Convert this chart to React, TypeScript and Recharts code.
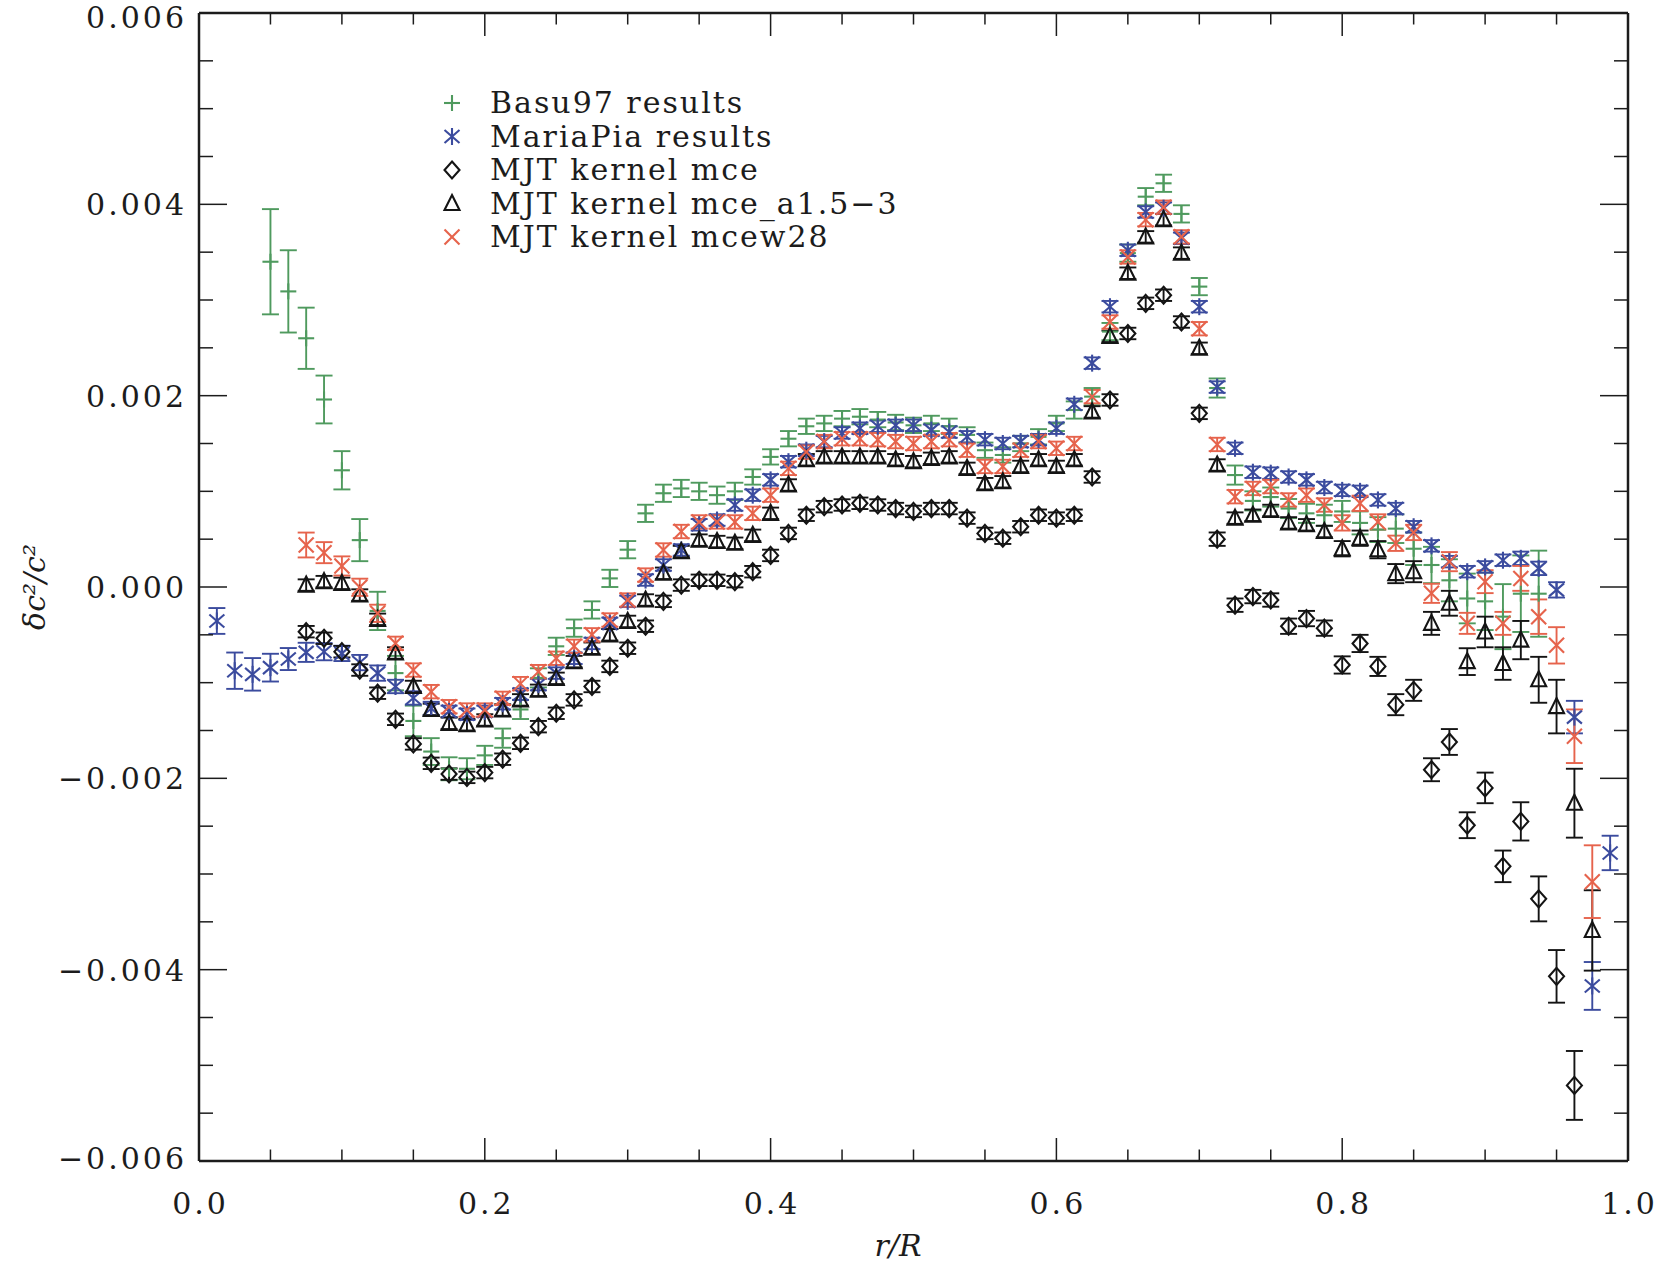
import React from "react";
import { ScatterChart, Scatter, XAxis, YAxis, ErrorBar, Legend } from "recharts";

// radius grid r/R shared by all series (null = no point at that radius)
const radius = [
  0.0125, 0.025, 0.0375, 0.05, 0.0625, 0.075, 0.0875, 0.1, 0.1125, 0.125,
  0.1375, 0.15, 0.1625, 0.175, 0.1875, 0.2, 0.2125, 0.225, 0.2375, 0.25,
  0.2625, 0.275, 0.2875, 0.3, 0.3125, 0.325, 0.3375, 0.35, 0.3625, 0.375,
  0.3875, 0.4, 0.4125, 0.425, 0.4375, 0.45, 0.4625, 0.475, 0.4875, 0.5,
  0.5125, 0.525, 0.5375, 0.55, 0.5625, 0.575, 0.5875, 0.6, 0.6125, 0.625,
  0.6375, 0.65, 0.6625, 0.675, 0.6875, 0.7, 0.7125, 0.725, 0.7375, 0.75,
  0.7625, 0.775, 0.7875, 0.8, 0.8125, 0.825, 0.8375, 0.85, 0.8625, 0.875,
  0.8875, 0.9, 0.9125, 0.925, 0.9375, 0.95, 0.9625, 0.975, 0.9875,
];

// values in units of 1e-3 (dc^2/c^2)
const basu97 = [
  null, null, null, 3.4, 3.09, 2.6, 1.96, 1.22, 0.49, -0.25,
  -0.9, -1.4, -1.72, -1.9, -1.9, -1.76, -1.58, -1.28, -0.95, -0.62,
  -0.43, -0.24, 0.09, 0.39, 0.77, 0.98, 1.03, 1.0, 0.96, 1.0,
  1.15, 1.36, 1.55, 1.68, 1.71, 1.76, 1.78, 1.75, 1.72, 1.69,
  1.71, 1.68, 1.59, 1.43, 1.38, 1.5, 1.57, 1.71, 1.85, 1.99,
  2.67, 3.49, 4.08, 4.22, 3.9, 3.14, 2.08, 1.17, 0.9, 0.94,
  0.82, 0.77, 0.75, 0.79, 0.67, 0.6, 0.61, 0.4, 0.23, 0.07,
  -0.12, -0.15, -0.31, -0.07, -0.07, null, null, null, null,
];
const basu97Err = [
  null, null, null, 0.55, 0.43, 0.32, 0.25, 0.2, 0.22, 0.2,
  0.18, 0.16, 0.14, 0.12, 0.11, 0.1, 0.1, 0.1, 0.1, 0.09,
  0.09, 0.09, 0.09, 0.09, 0.09, 0.09, 0.09, 0.09, 0.09, 0.09,
  0.08, 0.08, 0.08, 0.08, 0.08, 0.08, 0.08, 0.08, 0.08, 0.08,
  0.08, 0.08, 0.08, 0.08, 0.08, 0.08, 0.08, 0.08, 0.09, 0.09,
  0.09, 0.09, 0.09, 0.09, 0.09, 0.09, 0.1, 0.1, 0.1, 0.1,
  0.1, 0.1, 0.11, 0.11, 0.12, 0.13, 0.15, 0.17, 0.19, 0.22,
  0.26, 0.3, 0.34, 0.4, 0.45, null, null, null, null,
];

const mariaPia = [
  -0.355, -0.875, -0.913, -0.843, -0.753, -0.683, -0.676, -0.694, -0.79, -0.9,
  -1.04, -1.16, -1.27, -1.3, -1.33, -1.3, -1.22, -1.12, -1.02, -0.9,
  -0.745, -0.59, -0.38, -0.15, 0.073, 0.23, 0.387, 0.65, 0.7, 0.857,
  0.96, 1.12, 1.31, 1.43, 1.52, 1.61, 1.66, 1.68, 1.69, 1.69,
  1.64, 1.62, 1.57, 1.54, 1.5, 1.52, 1.54, 1.66, 1.91, 2.34,
  2.93, 3.52, 3.92, 3.96, 3.645, 2.93, 2.09, 1.45, 1.2, 1.19,
  1.15, 1.12, 1.04, 1.01, 1.0, 0.91, 0.82, 0.63, 0.43, 0.265,
  0.16, 0.21, 0.28, 0.3, 0.195, -0.03, -1.36, -4.17, -2.78,
];
const mariaPiaErr = [
  0.135, 0.19, 0.17, 0.145, 0.115, 0.1, 0.09, 0.08, 0.08, 0.08,
  0.07, 0.07, 0.07, 0.06, 0.06, 0.06, 0.06, 0.06, 0.06, 0.06,
  0.06, 0.06, 0.06, 0.06, 0.06, 0.06, 0.06, 0.06, 0.06, 0.06,
  0.06, 0.06, 0.06, 0.06, 0.06, 0.06, 0.06, 0.06, 0.06, 0.06,
  0.06, 0.06, 0.06, 0.06, 0.06, 0.06, 0.06, 0.06, 0.06, 0.06,
  0.06, 0.06, 0.06, 0.06, 0.06, 0.06, 0.06, 0.06, 0.06, 0.06,
  0.06, 0.06, 0.06, 0.06, 0.06, 0.06, 0.06, 0.06, 0.06, 0.06,
  0.06, 0.06, 0.06, 0.07, 0.07, 0.08, 0.17, 0.25, 0.18,
];

const mjtMce = [
  null, null, null, null, null, -0.467, -0.536, -0.676, -0.868, -1.11,
  -1.383, -1.64, -1.843, -1.955, -1.99, -1.94, -1.8, -1.634, -1.46, -1.32,
  -1.18, -1.04, -0.83, -0.64, -0.41, -0.15, 0.02, 0.07, 0.07, 0.056,
  0.16, 0.33, 0.56, 0.75, 0.84, 0.857, 0.875, 0.857, 0.82, 0.79,
  0.82, 0.82, 0.72, 0.56, 0.51, 0.63, 0.75, 0.72, 0.75, 1.15,
  1.955, 2.65, 2.965, 3.05, 2.77, 1.815, 0.5, -0.19, -0.1, -0.136,
  -0.41, -0.33, -0.43, -0.815, -0.59, -0.83, -1.23, -1.08, -1.91, -1.62,
  -2.49, -2.1, -2.92, -2.45, -3.26, -4.07, -5.21, null, null,
];
const mjtMceErr = [
  null, null, null, null, null, 0.06, 0.06, 0.06, 0.06, 0.06,
  0.06, 0.06, 0.06, 0.06, 0.06, 0.06, 0.06, 0.06, 0.06, 0.06,
  0.06, 0.06, 0.06, 0.06, 0.06, 0.06, 0.06, 0.06, 0.06, 0.06,
  0.06, 0.06, 0.06, 0.06, 0.06, 0.06, 0.06, 0.06, 0.06, 0.06,
  0.06, 0.06, 0.06, 0.06, 0.06, 0.06, 0.06, 0.06, 0.06, 0.06,
  0.06, 0.06, 0.06, 0.06, 0.06, 0.06, 0.07, 0.07, 0.07, 0.07,
  0.08, 0.08, 0.08, 0.09, 0.09, 0.1, 0.11, 0.11, 0.12, 0.135,
  0.135, 0.16, 0.165, 0.2, 0.235, 0.275, 0.36, null, null,
];

const mjtA153 = [
  null, null, null, null, null, 0.02, 0.056, 0.038, -0.084, -0.338,
  -0.69, -1.04, -1.28, -1.425, -1.44, -1.39, -1.286, -1.18, -1.08, -0.955,
  -0.78, -0.64, -0.5, -0.36, -0.136, 0.143, 0.37, 0.49, 0.475, 0.457,
  0.54, 0.77, 1.066, 1.33, 1.36, 1.36, 1.36, 1.36, 1.33, 1.31,
  1.345, 1.36, 1.24, 1.08, 1.1, 1.26, 1.33, 1.26, 1.33, 1.83,
  2.62, 3.28, 3.66, 3.84, 3.49, 2.495, 1.275, 0.72, 0.75, 0.8,
  0.67, 0.65, 0.58, 0.4, 0.51, 0.39, 0.14, 0.16, -0.38, -0.17,
  -0.78, -0.47, -0.8, -0.555, -0.97, -1.25, -2.26, -3.59, null,
];
const mjtA153Err = [
  null, null, null, null, null, 0.06, 0.06, 0.06, 0.06, 0.06,
  0.06, 0.06, 0.06, 0.06, 0.06, 0.06, 0.06, 0.06, 0.06, 0.06,
  0.06, 0.06, 0.06, 0.06, 0.06, 0.06, 0.06, 0.06, 0.06, 0.06,
  0.06, 0.06, 0.06, 0.06, 0.06, 0.06, 0.06, 0.06, 0.06, 0.06,
  0.06, 0.06, 0.06, 0.06, 0.06, 0.06, 0.06, 0.06, 0.06, 0.06,
  0.06, 0.06, 0.06, 0.06, 0.06, 0.06, 0.06, 0.06, 0.06, 0.06,
  0.06, 0.06, 0.06, 0.08, 0.08, 0.09, 0.1, 0.11, 0.12, 0.13,
  0.14, 0.16, 0.17, 0.2, 0.24, 0.28, 0.36, 0.42, null,
];

const mjtW28 = [
  null, null, null, null, null, 0.439, 0.359, 0.22, -0.003, -0.275,
  -0.589, -0.868, -1.094, -1.251, -1.286, -1.286, -1.164, -1.01, -0.885, -0.745,
  -0.62, -0.5, -0.345, -0.136, 0.125, 0.387, 0.58, 0.68, 0.68, 0.68,
  0.77, 0.96, 1.24, 1.41, 1.52, 1.55, 1.55, 1.54, 1.52, 1.5,
  1.52, 1.54, 1.43, 1.26, 1.26, 1.43, 1.52, 1.45, 1.5, 1.99,
  2.77, 3.45, 3.84, 3.97, 3.66, 2.7, 1.49, 0.944, 1.03, 1.05,
  0.91, 0.96, 0.857, 0.67, 0.875, 0.68, 0.457, 0.57, -0.066, 0.265,
  -0.38, 0.056, -0.38, 0.09, -0.31, -0.61, -1.56, -3.08, null,
];
const mjtW28Err = [
  null, null, null, null, null, 0.13, 0.11, 0.1, 0.09, 0.09,
  0.07, 0.07, 0.07, 0.07, 0.07, 0.07, 0.07, 0.07, 0.07, 0.07,
  0.07, 0.07, 0.07, 0.07, 0.07, 0.07, 0.07, 0.07, 0.07, 0.07,
  0.07, 0.07, 0.07, 0.07, 0.07, 0.07, 0.07, 0.07, 0.07, 0.07,
  0.07, 0.07, 0.07, 0.07, 0.07, 0.07, 0.07, 0.07, 0.07, 0.07,
  0.07, 0.07, 0.07, 0.07, 0.07, 0.07, 0.07, 0.07, 0.07, 0.07,
  0.07, 0.07, 0.07, 0.08, 0.08, 0.08, 0.08, 0.08, 0.1, 0.1,
  0.11, 0.12, 0.12, 0.13, 0.18, 0.19, 0.28, 0.38, null,
];

const xTicks = [
  0, 0.05, 0.1, 0.15, 0.2, 0.25, 0.3, 0.35, 0.4, 0.45, 0.5,
  0.55, 0.6, 0.65, 0.7, 0.75, 0.8, 0.85, 0.9, 0.95, 1.0,
];
const yTicks = [
  -6, -5.5, -5, -4.5, -4, -3.5, -3, -2.5, -2, -1.5, -1, -0.5, 0,
  0.5, 1, 1.5, 2, 2.5, 3, 3.5, 4, 4.5, 5, 5.5, 6,
];

const FONT = '"DejaVu Serif", serif';
const INK = "#1c1c1c";
const GREEN = "#4f9a5e";
const BLUE = "#3b4b9e";
const RED = "#e6634c";
const BLACK = "#141414";

type MarkerKind = "plus" | "star" | "diamond" | "triangle" | "cross";

function Marker({ kind, cx, cy, color }: { kind: MarkerKind; cx: number; cy: number; color: string }) {
  const sw = 2.1;
  if (kind === "plus") {
    return (
      <g stroke={color} strokeWidth={sw}>
        <line x1={cx - 8} y1={cy} x2={cx + 8} y2={cy} />
        <line x1={cx} y1={cy - 8} x2={cx} y2={cy + 8} />
      </g>
    );
  }
  if (kind === "star") {
    return (
      <g stroke={color} strokeWidth={sw}>
        <line x1={cx} y1={cy - 8.5} x2={cx} y2={cy + 8.5} />
        <line x1={cx - 7.5} y1={cy - 6.5} x2={cx + 7.5} y2={cy + 6.5} />
        <line x1={cx - 7.5} y1={cy + 6.5} x2={cx + 7.5} y2={cy - 6.5} />
      </g>
    );
  }
  if (kind === "diamond") {
    return (
      <polygon
        points={`${cx},${cy - 8.5} ${cx + 7.5},${cy} ${cx},${cy + 8.5} ${cx - 7.5},${cy}`}
        fill="none"
        stroke={color}
        strokeWidth={sw}
      />
    );
  }
  if (kind === "triangle") {
    return (
      <polygon
        points={`${cx},${cy - 8.5} ${cx + 7.5},${cy + 6.5} ${cx - 7.5},${cy + 6.5}`}
        fill="none"
        stroke={color}
        strokeWidth={sw}
      />
    );
  }
  return (
    <g stroke={color} strokeWidth={sw}>
      <line x1={cx - 7.5} y1={cy - 7.5} x2={cx + 7.5} y2={cy + 7.5} />
      <line x1={cx - 7.5} y1={cy + 7.5} x2={cx + 7.5} y2={cy - 7.5} />
    </g>
  );
}

const series: { name: string; kind: MarkerKind; color: string; values: (number | null)[]; errors: (number | null)[] }[] = [
  { name: "Basu97 results", kind: "plus", color: GREEN, values: basu97, errors: basu97Err },
  { name: "MariaPia results", kind: "star", color: BLUE, values: mariaPia, errors: mariaPiaErr },
  { name: "MJT kernel mce", kind: "diamond", color: BLACK, values: mjtMce, errors: mjtMceErr },
  { name: "MJT kernel mce_a1.5\u22123", kind: "triangle", color: BLACK, values: mjtA153, errors: mjtA153Err },
  { name: "MJT kernel mcew28", kind: "cross", color: RED, values: mjtW28, errors: mjtW28Err },
];

function toPoints(values: (number | null)[], errors: (number | null)[]) {
  return radius
    .map((r, i) => ({ r, v: values[i], err: errors[i] }))
    .filter((p) => p.v !== null);
}

const isMajor = (v: number, step: number) => Math.abs(v / step - Math.round(v / step)) < 1e-6;

function fmtY(v: number) {
  const s = Math.abs(v / 1000).toFixed(3);
  return v < 0 ? "\u2212" + s : s;
}

const labelStyle = { fontFamily: FONT, fontSize: 30, fill: INK, letterSpacing: 3 } as const;

function BottomTick({ x, y, payload }: any) {
  const major = isMajor(payload.value, 0.2);
  return (
    <g>
      <line x1={x} y1={y} x2={x} y2={y - (major ? 23 : 11.5)} stroke={INK} strokeWidth={1.5} />
      {major && (
        <text x={x + 1.5} y={y + 53} textAnchor="middle" {...labelStyle}>
          {payload.value.toFixed(1)}
        </text>
      )}
    </g>
  );
}

function TopTick({ x, y, payload }: any) {
  const major = isMajor(payload.value, 0.2);
  return <line x1={x} y1={y} x2={x} y2={y + (major ? 23 : 11.5)} stroke={INK} strokeWidth={1.5} />;
}

function LeftTick({ x, y, payload }: any) {
  const major = isMajor(payload.value, 2);
  // keep the top label inside the page
  const dy = payload.value === 6 ? 15 : payload.value === -6 ? 8 : 11;
  return (
    <g>
      <line x1={x} y1={y} x2={x + (major ? 28 : 14)} y2={y} stroke={INK} strokeWidth={1.5} />
      {major && (
        <text x={x - 12} y={y + dy} textAnchor="end" {...labelStyle}>
          {fmtY(payload.value)}
        </text>
      )}
    </g>
  );
}

function RightTick({ x, y, payload }: any) {
  const major = isMajor(payload.value, 2);
  return <line x1={x} y1={y} x2={x - (major ? 28 : 14)} y2={y} stroke={INK} strokeWidth={1.5} />;
}

function LegendBox() {
  return (
    <svg width={500} height={180}>
      {series.map((s, i) => {
        const cy = 23 + i * 33.5;
        return (
          <g key={s.name}>
            <Marker kind={s.kind} cx={22} cy={cy} color={s.color} />
            <text x={60} y={cy + 10} fontFamily={FONT} fontSize={30} fill={INK} letterSpacing={2}>
              {s.name}
            </text>
          </g>
        );
      })}
    </svg>
  );
}

export default function App() {
  return (
    <div style={{ position: "absolute", left: 0, top: 0, width: 1660, height: 1269, background: "#fff" }}>
      <ScatterChart width={1660} height={1269} margin={{ top: 12, right: 31, bottom: 0, left: 0 }}>
        <XAxis
          xAxisId="bottom"
          dataKey="r"
          type="number"
          domain={[0, 1]}
          ticks={xTicks}
          interval={0}
          height={108}
          tickSize={0}
          tickMargin={0}
          tickLine={false}
          tick={<BottomTick />}
          axisLine={{ stroke: INK, strokeWidth: 2.5 }}
          allowDataOverflow
          label={() => (
            <text x={898} y={1256} textAnchor="middle" fontFamily={FONT} fontSize={30} fontStyle="italic" fill={INK}>
              r/R
            </text>
          )}
        />
        <XAxis
          xAxisId="top"
          orientation="top"
          dataKey="r"
          type="number"
          domain={[0, 1]}
          ticks={xTicks}
          interval={0}
          height={1}
          tickSize={0}
          tickMargin={0}
          tickLine={false}
          tick={<TopTick />}
          axisLine={{ stroke: INK, strokeWidth: 2.5 }}
          allowDataOverflow
        />
        <YAxis
          yAxisId="left"
          dataKey="v"
          type="number"
          domain={[-6, 6]}
          ticks={yTicks}
          interval={0}
          width={199}
          tickSize={0}
          tickMargin={0}
          tickLine={false}
          tick={<LeftTick />}
          axisLine={{ stroke: INK, strokeWidth: 2.5 }}
          allowDataOverflow
          label={() => (
            <text
              x={45}
              y={587}
              transform="rotate(-90 45 587)"
              textAnchor="middle"
              fontFamily={FONT}
              fontSize={30}
              fontStyle="italic"
              fill={INK}
            >
              {"\u03b4c\u00b2/c\u00b2"}
            </text>
          )}
        />
        <YAxis
          yAxisId="right"
          orientation="right"
          dataKey="v"
          type="number"
          domain={[-6, 6]}
          ticks={yTicks}
          interval={0}
          width={1}
          tickSize={0}
          tickMargin={0}
          tickLine={false}
          tick={<RightTick />}
          axisLine={{ stroke: INK, strokeWidth: 2.5 }}
          allowDataOverflow
        />
        <Legend
          layout="vertical"
          align="center"
          verticalAlign="middle"
          content={() => <LegendBox />}
          wrapperStyle={{ position: "absolute", left: 430, top: 80, width: 500, height: 180 }}
        />
        {/* frame axes (top/right) carry no marks of their own */}
        <Scatter xAxisId="top" yAxisId="right" data={[]} isAnimationActive={false} legendType="none" />
        {series.map((s) => (
          <Scatter
            key={s.name}
            name={s.name}
            xAxisId="bottom"
            yAxisId="left"
            data={toPoints(s.values, s.errors)}
            isAnimationActive={false}
            shape={(p: any) => <Marker kind={s.kind} cx={p.cx} cy={p.cy} color={s.color} />}
          >
            <ErrorBar dataKey="err" direction="y" width={8.5} stroke={s.color} strokeWidth={1.9} isAnimationActive={false} />
          </Scatter>
        ))}
      </ScatterChart>
    </div>
  );
}
